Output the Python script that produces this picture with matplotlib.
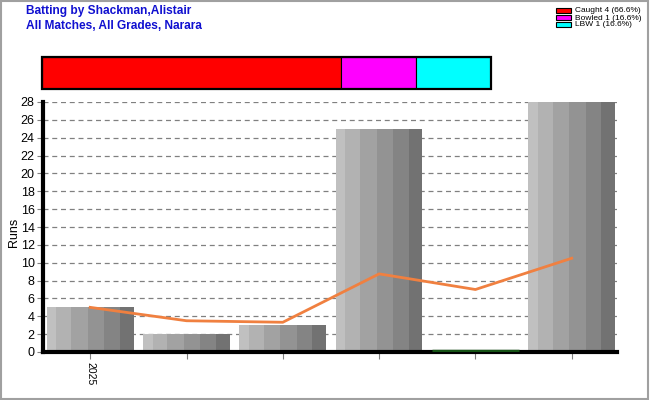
import numpy as np
import matplotlib.pyplot as plt
from matplotlib.patches import Rectangle

plt.rcParams['font.family'] = ['Liberation Sans', 'DejaVu Sans']

# innings data
innings = [0, 1, 2, 3, 4, 5]
runs = [5, 2, 3, 25, 0, 28]
average = [5, 3.5, 3.33, 8.75, 7, 10.5]
tick_labels = ['2025', '', '', '', '', '']

dismissals = ['Caught', 'Bowled', 'LBW']
dismissal_counts = [4, 1, 1]
dismissal_pct = ['66.6%', '16.6%', '16.6%']
dismissal_colors = ['#ff0000', '#ff00ff', '#00ffff']

stripe_colors = ['#c0c0c0', '#b2b2b2', '#a2a2a2', '#939393', '#848484', '#727272']
stripe_frac = [0.11, 0.17, 0.19, 0.19, 0.18, 0.16]

fig = plt.figure(figsize=(6.5, 4), dpi=100)

ax = fig.add_axes([43 / 650, 1 - 352 / 400, 574 / 650, 250 / 400])
bar_w = 0.9
for x, r in zip(innings, runs):
    left = x - bar_w / 2
    if r == 0:
        ax.plot([left, left + bar_w], [0.08, 0.08], color='#145214', lw=2.5,
                solid_capstyle='butt', zorder=3)
        continue
    for c, f in zip(stripe_colors, stripe_frac):
        ax.bar(left, r, width=bar_w * f, align='edge', color=c, lw=0, zorder=2)
        left += bar_w * f

ax.plot(innings, average, color='#f08040', lw=2, zorder=4)

ax.set_xlim(-0.49, 5.47)
ax.set_ylim(0, 28)
ax.set_yticks(np.arange(0, 29, 2))
ax.set_xticks(innings)
ax.set_xticklabels(tick_labels, rotation=-90, fontsize=7.5)
ax.tick_params(axis='y', labelsize=9, length=4, color='#808080', pad=2)
ax.tick_params(axis='x', length=5, color='#808080', pad=2)
ax.yaxis.grid(True, linestyle=(0, (4, 3)), color='#808080', lw=0.9, zorder=1)
ax.set_axisbelow(True)
for s in ['top', 'right']:
    ax.spines[s].set_visible(False)
ax.spines['left'].set_linewidth(3)
ax.spines['bottom'].set_linewidth(3)
ax.set_ylabel('Runs', fontsize=9)
ax.yaxis.set_label_coords(-23 / 574, 0.48)

# dismissal bar
axd = fig.add_axes([42 / 650, 1 - 89 / 400, 449 / 650, 32 / 400])
left = 0
for n, c in zip(dismissal_counts, dismissal_colors):
    axd.barh(0, n, left=left, height=1, color=c, edgecolor='black', lw=0.8)
    left += n
axd.set_xlim(0, sum(dismissal_counts))
axd.set_ylim(-0.5, 0.5)
axd.axis('off')
axd.add_patch(Rectangle((0, -0.5), sum(dismissal_counts), 1, fill=False,
                        edgecolor='black', lw=1.6, clip_on=False))

# legend
for i, (d, n, p, c) in enumerate(zip(dismissals, dismissal_counts, dismissal_pct, dismissal_colors)):
    y = 1 - (11 + 7 * i) / 400
    fig.patches.append(Rectangle((556 / 650, y - 2 / 400), 15 / 650, 5 / 400,
                                 facecolor=c, edgecolor='black', lw=0.8,
                                 transform=fig.transFigure, figure=fig))
    fig.text(575 / 650, y, f'{d} {n} ({p})', fontsize=6, va='center', ha='left')

fig.text(26 / 650, 1 - 11 / 400, 'Batting by Shackman,Alistair', color='#1010d0',
         fontsize=8.6, fontweight='bold', va='center')
fig.text(26 / 650, 1 - 26 / 400, 'All Matches, All Grades, Narara', color='#1010d0',
         fontsize=8.6, fontweight='bold', va='center')

fig.patches.append(Rectangle((0.001, 0.003), 0.996, 0.995, fill=False,
                             edgecolor='#a0a0a0', lw=1.5,
                             transform=fig.transFigure, figure=fig))

fig.savefig('out.png', dpi=100)
